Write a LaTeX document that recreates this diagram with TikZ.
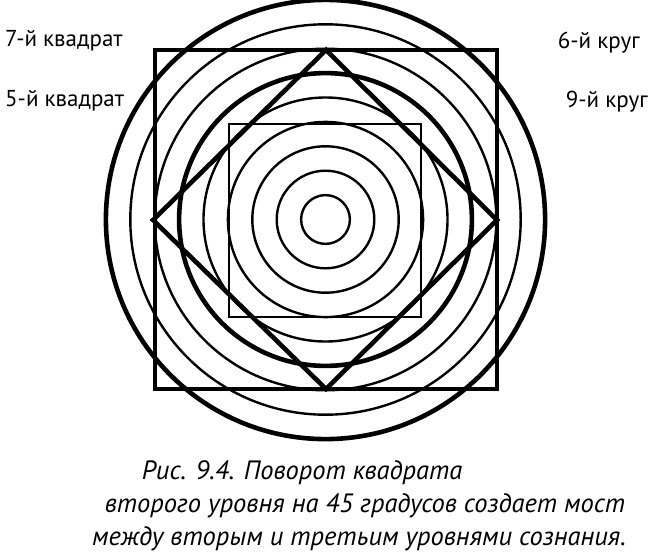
\documentclass[tikz,border=0pt]{standalone}
\usepackage{fontspec}
\setmainfont{PT Sans}
\begin{document}
\begin{tikzpicture}[x=1pt,y=-1pt,
  thin line/.style={line width=2.4pt},
  thick line/.style={line width=4.6pt},
  label/.style={font=\fontsize{23}{27}\selectfont, inner sep=0pt},
  caption/.style={font=\fontsize{26.5}{31}\selectfont\itshape, inner sep=0pt, anchor=base}]
\useasboundingbox (0,0) rectangle (650,559);
\coordinate (c) at (325.5,219.5);
% concentric circles
\foreach \k in {1,2,3,4,5,7,8} {
  \draw[thin line] (c) circle[radius=24.4*\k];
}
\foreach \k in {6,9} {
  \draw[thick line] (c) circle[radius=24.4*\k];
}
% squares
\draw[thick line] (155,50) rectangle (497,389);
\draw[thin line] (229,124) rectangle (421,317);
\draw[thick line, line join=miter] (326,50) -- (497,220) -- (326,389) -- (153,220) -- cycle;
% labels
\node[label, anchor=west] (q7) at (5,41) {7-й квадрат};
\node[label, anchor=west] (q5) at (5,101) {5-й квадрат};
\node[label, anchor=east] (k6) at (640,43) {6-й круг};
\node[label, anchor=east] (k9) at (648,102) {9-й круг};
% caption
\node[caption] (cap1) at (302,479) {Рис. 9.4. Поворот квадрата};
\node[caption] (cap2) at (365,512) {второго уровня на 45 градусов создает мост};
\node[caption] (cap3) at (359,545) {между вторым и третьим уровнями сознания.};
\end{tikzpicture}
\end{document}
